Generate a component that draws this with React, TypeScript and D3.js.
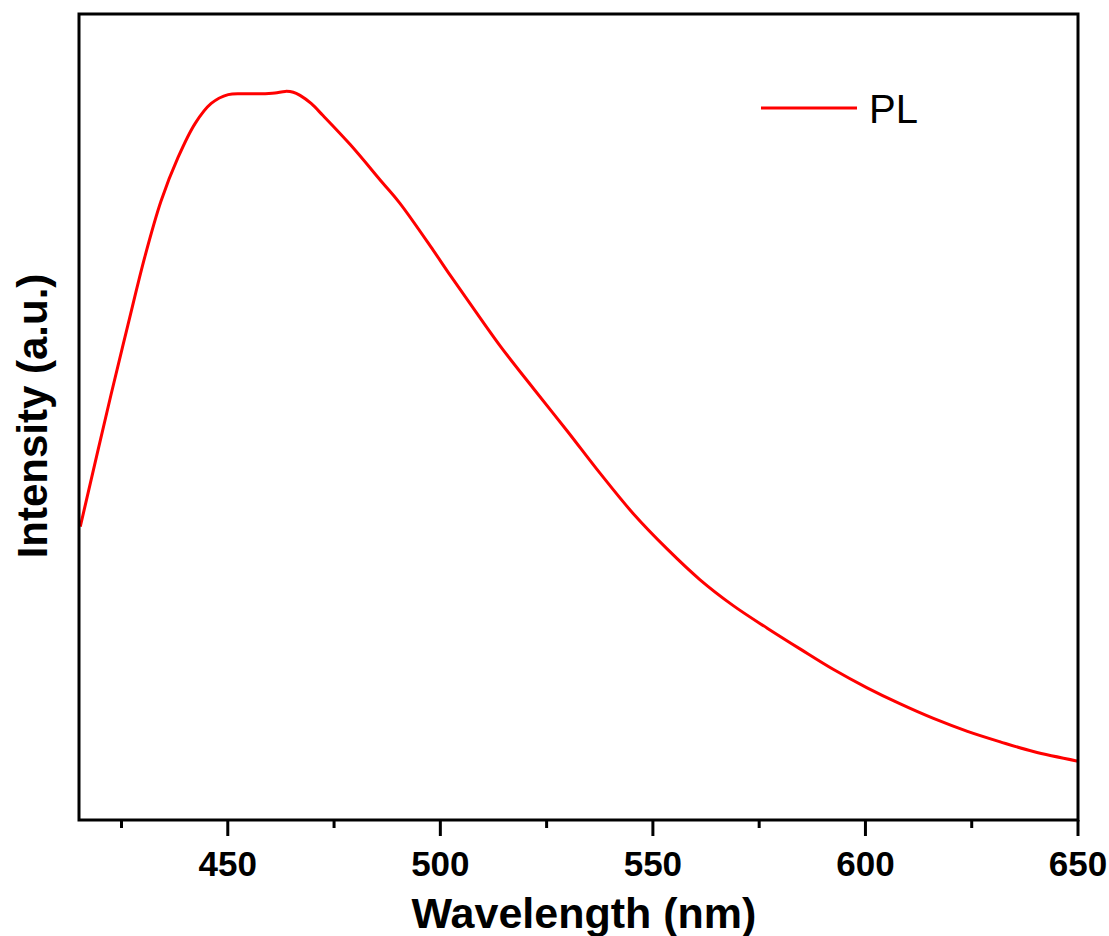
import React, { useEffect, useRef } from 'react';
import * as d3 from 'd3';

// PL spectrum (wavelength in nm, intensity in a.u.)
const wavelength = [
  415.3, 422.5, 426.5, 430.5, 434.3, 438.3, 442.3, 446.1, 450.1, 454.1,
  457.8, 461.1, 463.5, 465.4, 467.0, 469.6, 472.4, 478.8, 486.5, 490.5,
  498.3, 502.3, 506.3, 514.1, 521.8, 529.8, 537.6, 545.4, 553.4, 561.1,
  568.9, 576.9, 584.7, 592.4, 600.4, 608.2, 616.0, 624.0, 631.7, 639.5, 650.0,
];
const intensity = [
  0.364, 0.527, 0.614, 0.699, 0.768, 0.822, 0.864, 0.889, 0.900, 0.901,
  0.901, 0.902, 0.904, 0.903, 0.899, 0.889, 0.874, 0.838, 0.790, 0.765,
  0.707, 0.676, 0.646, 0.588, 0.536, 0.483, 0.430, 0.380, 0.336, 0.298,
  0.266, 0.238, 0.212, 0.187, 0.164, 0.144, 0.126, 0.110, 0.097, 0.085, 0.073,
];
const majorTicks = [450, 500, 550, 600, 650];
const minorTicks = [425, 475, 525, 575, 625];
const seriesName = 'PL';

const FONT = '"Liberation Sans", Arial, sans-serif';

function App() {
  const ref = useRef<SVGSVGElement>(null);

  useEffect(() => {
    const svg = d3.select(ref.current);
    svg.selectAll('*').remove();

    const left = 79,
      right = 1078,
      top = 14,
      bottom = 820;

    const x = d3.scaleLinear().domain([415, 650]).range([left, right]);
    const y = d3.scaleLinear().domain([0, 1]).range([bottom, top]);

    const data = wavelength.map((w, i) => ({ w, v: intensity[i] }));

    svg
      .append('defs')
      .append('clipPath')
      .attr('id', 'plot-clip')
      .append('rect')
      .attr('x', left)
      .attr('y', top)
      .attr('width', right - left)
      .attr('height', bottom - top);

    const line = d3
      .line<{ w: number; v: number }>()
      .x(d => x(d.w))
      .y(d => y(d.v))
      .curve(d3.curveCatmullRom.alpha(0.5));

    svg
      .append('path')
      .datum(data)
      .attr('clip-path', 'url(#plot-clip)')
      .attr('fill', 'none')
      .attr('stroke', '#ff0000')
      .attr('stroke-width', 3)
      .attr('stroke-linejoin', 'round')
      .attr('d', line);

    // bottom ticks
    svg
      .selectAll('.major')
      .data(majorTicks)
      .enter()
      .append('line')
      .attr('x1', d => x(d))
      .attr('x2', d => x(d))
      .attr('y1', bottom)
      .attr('y2', bottom + 16)
      .attr('stroke', '#000')
      .attr('stroke-width', 3);

    svg
      .selectAll('.minor')
      .data(minorTicks)
      .enter()
      .append('line')
      .attr('x1', d => x(d))
      .attr('x2', d => x(d))
      .attr('y1', bottom)
      .attr('y2', bottom + 8)
      .attr('stroke', '#000')
      .attr('stroke-width', 3);

    svg
      .selectAll('.tick-label')
      .data(majorTicks)
      .enter()
      .append('text')
      .attr('x', d => x(d))
      .attr('y', 876)
      .attr('text-anchor', 'middle')
      .attr('font-family', FONT)
      .attr('font-weight', 'bold')
      .attr('font-size', 35)
      .text(d => d);

    // frame
    svg
      .append('rect')
      .attr('x', left)
      .attr('y', top)
      .attr('width', right - left)
      .attr('height', bottom - top)
      .attr('fill', 'none')
      .attr('stroke', '#000')
      .attr('stroke-width', 3);

    svg
      .append('text')
      .attr('x', 584)
      .attr('y', 928)
      .attr('text-anchor', 'middle')
      .attr('font-family', FONT)
      .attr('font-weight', 'bold')
      .attr('font-size', 43)
      .text('Wavelength (nm)');

    svg
      .append('text')
      .attr('transform', 'translate(47,416) rotate(-90)')
      .attr('text-anchor', 'middle')
      .attr('font-family', FONT)
      .attr('font-weight', 'bold')
      .attr('font-size', 42)
      .text('Intensity (a.u.)');

    // legend
    const legend = svg.append('g').attr('transform', 'translate(761,108)');
    legend
      .append('line')
      .attr('x1', 0)
      .attr('x2', 96)
      .attr('y1', 0)
      .attr('y2', 0)
      .attr('stroke', '#ff0000')
      .attr('stroke-width', 3);
    legend
      .append('text')
      .attr('x', 108)
      .attr('y', 15)
      .attr('font-family', FONT)
      .attr('font-size', 40)
      .text(seriesName);
  }, []);

  return (
    <svg
      ref={ref}
      width={1109}
      height={936}
      viewBox="0 0 1109 936"
      style={{ position: 'absolute', left: 0, top: 0, background: '#fff' }}
    />
  );
}

export default App;
